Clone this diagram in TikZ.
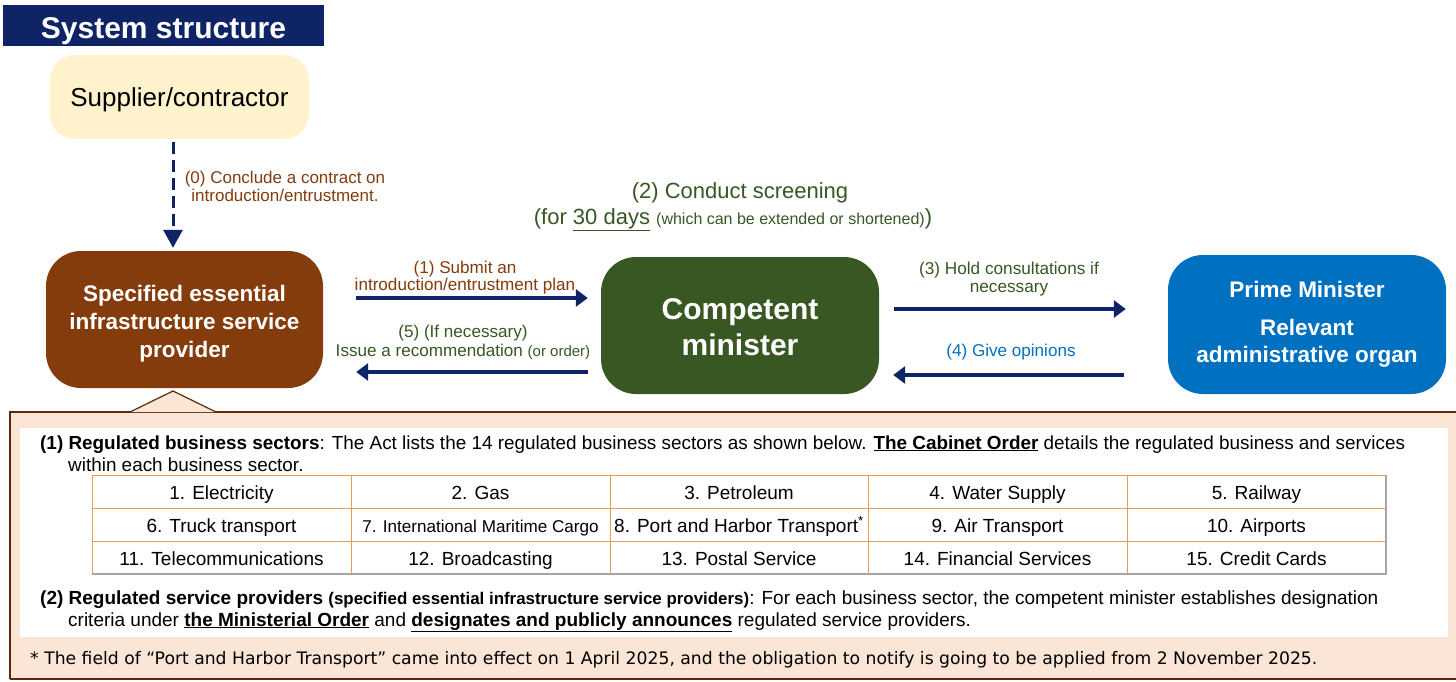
\documentclass[tikz,border=0pt]{standalone}
\usepackage{fontspec}
\setmainfont{Liberation Sans}
\newfontfamily\fnfont{DejaVu Sans}
\usetikzlibrary{arrows.meta}
\definecolor{navy}{HTML}{0F2466}
\definecolor{brownbox}{HTML}{843C0C}
\definecolor{greenbox}{HTML}{385723}
\definecolor{bluebox}{HTML}{0070C0}
\definecolor{cream}{HTML}{FFF2CC}
\definecolor{peach}{HTML}{FBE5D6}
\definecolor{peachline}{HTML}{5A2A0A}
\definecolor{tabline}{HTML}{EE9A55}
\newcommand{\fs}[1]{\fontsize{#1}{#1}\selectfont}
\tikzset{
  box/.style={rounded corners=#1, inner sep=0pt, align=center, text=white, font=\bfseries},
  arr/.style={draw=navy, line width=3.2pt, -{Triangle[length=12pt,width=17pt]}},
  lbl/.style={inner sep=0pt, align=center},
  cell/.style={inner sep=0pt, anchor=base, font=\fs{19}},
}
\begin{document}
\begin{tikzpicture}[x=1pt,y=-1pt]
\clip (0,0) rectangle (1456,682);
\fill[white] (0,0) rectangle (1456,682);
% title
\fill[navy] (3,5) rectangle (324,46);
\node[inner sep=0pt, text=white, font=\fs{30}\bfseries] (title) at (163.5,31) {System structure};
% supplier
\node[box=25pt, fill=cream, text=black, font=\fs{26}, minimum width=259pt, minimum height=84pt, text height=20pt, text depth=1pt] (sup) at (179.5,97) {Supplier/contractor};
% provider
\node[box=35pt, fill=brownbox, minimum width=277pt, minimum height=137pt,
  label={[yshift=-4pt, align=center, text=white, font=\fs{22.5}\bfseries]center:{Specified essential\\[5.5pt]infrastructure service\\[5.5pt]provider}}] (sp) at (184.5,319.5) {};
% competent
\node[box=35pt, fill=greenbox, minimum width=278pt, minimum height=137pt,
  label={[yshift=-2pt, align=center, text=white, font=\fs{30}\bfseries]center:{Competent\\[6pt]minister}}] (cm) at (740,325.5) {};
% prime
\node[box=35pt, fill=bluebox, font=\fs{22.5}\bfseries, minimum width=278pt, minimum height=139pt] (pm) at (1307,324.5) {Prime Minister\\[15pt]Relevant\\[5pt]administrative organ};
% peach box
\fill[peach] (10,412) rectangle (1470,679);
\draw[peachline, line width=1.6pt] (10,679) -- (10,412) -- (1470,412);
\draw[peachline, line width=1.6pt] (10,679) -- (1470,679);
\filldraw[fill=peach, draw=peachline, line width=1.2pt] (130,412) -- (173,391) -- (216,412);
\fill[white] (20,428) rectangle (1448,637);
% dashed arrow
\draw[navy, line width=3pt, dash pattern=on 12pt off 6pt, -{Triangle[length=18pt,width=19pt]}, shorten <=3pt, shorten >=3pt] (sup.south -| 173,0) -- (sp.north -| 173,0);
\node[lbl, text=brownbox, font=\fs{17}] (l0) at (285,186) {(0) Conclude a contract on\\[1pt]introduction/entrustment.};
% screening
\node[lbl, text=greenbox, font=\fs{22}] (l2a) at (740,193) {(2) Conduct screening};
\node[lbl, text=greenbox, font=\fs{22}] (l2b) at (733,220) {(for \underline{30 days} {\fs{16}(which can be extended or shortened)})};
% arrows
\coordinate (ya) at (0,298);
\coordinate (yb) at (0,372);
\coordinate (yc) at (0,309);
\coordinate (yd) at (0,375);
\draw[arr, shorten <=33pt, shorten >=13pt] (sp.east |- ya) -- (cm.west |- ya);
\draw[arr, shorten <=13pt, shorten >=33pt] (cm.west |- yb) -- (sp.east |- yb);
\draw[arr, shorten <=15pt, shorten >=42pt] (cm.east |- yc) -- (pm.west |- yc);
\draw[arr, shorten <=44pt, shorten >=14pt] (pm.west |- yd) -- (cm.east |- yd);
\node[lbl, text=brownbox, font=\fs{17.1}] (l1) at (465,278) {(1) Submit an\\[0pt]introduction/entrustment plan};
\node[lbl, text=greenbox, font=\fs{17.1}] (l5) at (463,342) {(5) (If necessary)\\[2pt]Issue a recommendation {\fs{15}(or order)}};
\node[lbl, text=greenbox, font=\fs{17.2}] (l3) at (1009,279) {(3) Hold consultations if\\[1pt]necessary};
\node[lbl, text=bluebox, font=\fs{17.1}] (l4) at (1011,352) {(4) Give opinions};
% body text
\node[anchor=base west, inner sep=0pt, font=\fs{18.9}] (t1a) at (40,449) {\textbf{(1) Regulated business sectors}: The Act lists the 14 regulated business sectors as shown below. \textbf{\underline{The Cabinet Order}} details the regulated business and services};
\node[anchor=base west, inner sep=0pt, font=\fs{18.9}] (t1b) at (68,471) {within each business sector.};
% table
\foreach \r/\ya/\yb in {1/475/508,2/508/541,3/541/574}{
  \foreach \c/\xa/\xb in {1/92/351,2/351/610,3/610/868,4/868/1127,5/1127/1386}{
    \draw[tabline, line width=1pt] (\xa,\ya) rectangle (\xb,\yb);
  }
}
\draw[gray!70, line width=1.2pt] (92,574) -- (1386,574) -- (1386,475);
\node[cell] (c11) at (221.5,499) {1. Electricity};
\node[cell] (c12) at (480.5,499) {2. Gas};
\node[cell] (c13) at (739,499) {3. Petroleum};
\node[cell] (c14) at (997.5,499) {4. Water Supply};
\node[cell] (c15) at (1256.5,499) {5. Railway};
\node[cell] (c21) at (221.5,532) {6. Truck transport};
\node[cell, font=\fs{17.1}] (c22) at (480.5,532) {7. International Maritime Cargo};
\node[cell] (c23) at (739,532) {8. Port and Harbor Transport\textsuperscript{*}};
\node[cell] (c24) at (997.5,532) {9. Air Transport};
\node[cell] (c25) at (1256.5,532) {10. Airports};
\node[cell] (c31) at (221.5,565) {11. Telecommunications};
\node[cell] (c32) at (480.5,565) {12. Broadcasting};
\node[cell] (c33) at (739,565) {13. Postal Service};
\node[cell] (c34) at (997.5,565) {14. Financial Services};
\node[cell] (c35) at (1256.5,565) {15. Credit Cards};
\node[anchor=base west, inner sep=0pt, font=\fs{19}] (t2a) at (40,604) {\textbf{(2) Regulated service providers} {\fs{16.9}\bfseries(specified essential infrastructure service providers)}: For each business sector, the competent minister establishes designation};
\node[anchor=base west, inner sep=0pt, font=\fs{19}] (t2b) at (68,626) {criteria under \textbf{\underline{the Ministerial Order}} and \textbf{\underline{designates and publicly announces}} regulated service providers.};
\node[anchor=base west, inner sep=0pt, font=\fnfont\fs{17.2}] (fn) at (30,664) {* The field of “Port and Harbor Transport” came into effect on 1 April 2025, and the obligation to notify is going to be applied from 2 November 2025.};
\end{tikzpicture}
\end{document}
